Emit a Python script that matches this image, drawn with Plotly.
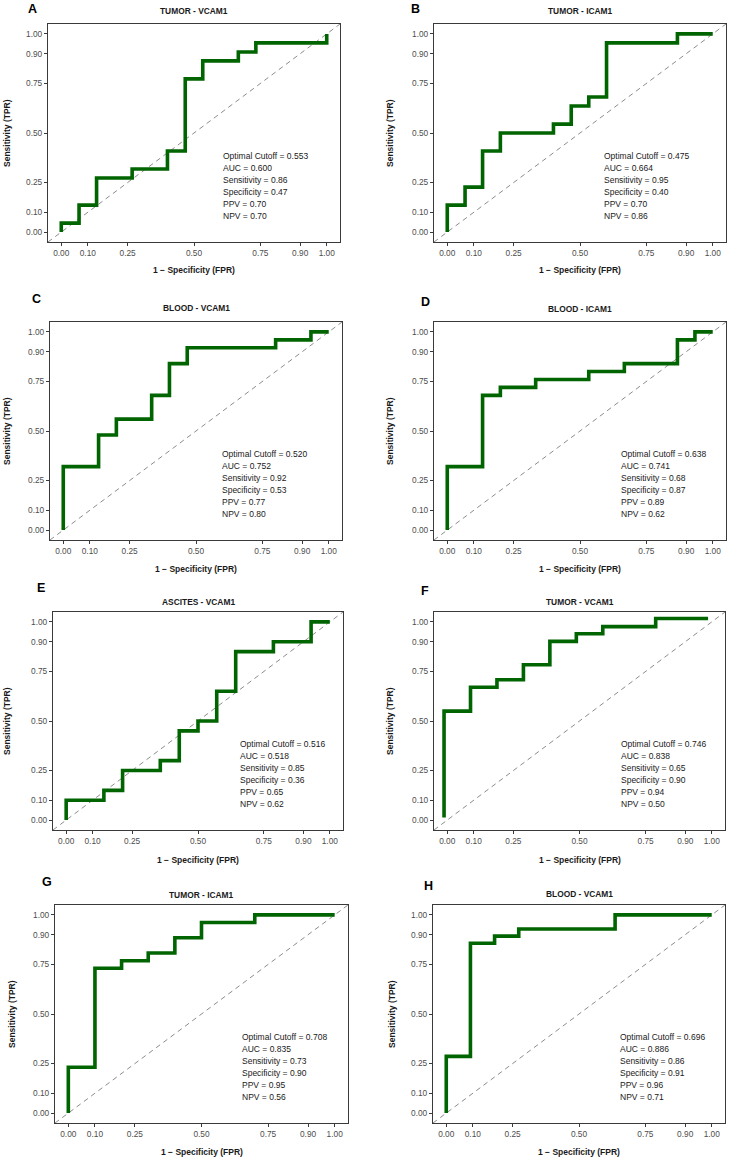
import plotly.graph_objects as go

W, H = 730, 1159

# ---------------- data ----------------
panel_letters = ["A", "B", "C", "D", "E", "F", "G", "H"]
panel_titles = ["TUMOR - VCAM1", "TUMOR - ICAM1", "BLOOD - VCAM1", "BLOOD - ICAM1",
                "ASCITES - VCAM1", "TUMOR - VCAM1", "TUMOR - ICAM1", "BLOOD - VCAM1"]

fpr_A = [0, 0, 0.067, 0.133, 0.267, 0.400, 0.467, 0.533, 0.667, 0.733, 1.0]
tpr_A = [0, 0.045, 0.136, 0.273, 0.318, 0.409, 0.773, 0.864, 0.909, 0.955, 1.0]

fpr_B = [0, 0, 0.067, 0.133, 0.200, 0.400, 0.467, 0.533, 0.600, 0.867, 1.0]
tpr_B = [0, 0.136, 0.227, 0.409, 0.500, 0.545, 0.636, 0.682, 0.955, 1.0, 1.0]

fpr_C = [0, 0, 0.133, 0.200, 0.333, 0.400, 0.467, 0.800, 0.933, 1.0]
tpr_C = [0, 0.32, 0.48, 0.56, 0.68, 0.84, 0.92, 0.96, 1.0, 1.0]

fpr_D = [0, 0, 0.133, 0.200, 0.333, 0.533, 0.667, 0.867, 0.933, 1.0]
tpr_D = [0, 0.32, 0.68, 0.72, 0.76, 0.80, 0.84, 0.96, 1.0, 1.0]

fpr_E = [0, 0, 0.143, 0.214, 0.357, 0.429, 0.500, 0.571, 0.643, 0.786, 0.929, 1.0]
tpr_E = [0, 0.10, 0.15, 0.25, 0.30, 0.45, 0.50, 0.65, 0.85, 0.90, 1.0, 1.0]

fpr_F = [-0.012, -0.012, 0.088, 0.188, 0.288, 0.388, 0.488, 0.588, 0.788, 0.986]
tpr_F = [0.013, 0.550, 0.670, 0.708, 0.784, 0.902, 0.940, 0.976, 1.017, 1.017]

fpr_G = [0, 0, 0.1, 0.2, 0.3, 0.4, 0.5, 0.7, 1.0]
tpr_G = [0, 0.231, 0.731, 0.769, 0.808, 0.885, 0.962, 1.0, 1.0]

fpr_H = [0, 0, 0.091, 0.182, 0.273, 0.636, 1.0]
tpr_H = [0, 0.286, 0.857, 0.893, 0.929, 1.0, 1.0]

curves_fpr = [fpr_A, fpr_B, fpr_C, fpr_D, fpr_E, fpr_F, fpr_G, fpr_H]
curves_tpr = [tpr_A, tpr_B, tpr_C, tpr_D, tpr_E, tpr_F, tpr_G, tpr_H]

cutoff = ["0.553", "0.475", "0.520", "0.638", "0.516", "0.746", "0.708", "0.696"]
auc = ["0.600", "0.664", "0.752", "0.741", "0.518", "0.838", "0.835", "0.886"]
sens = ["0.86", "0.95", "0.92", "0.68", "0.85", "0.65", "0.73", "0.86"]
spec = ["0.47", "0.40", "0.53", "0.87", "0.36", "0.90", "0.90", "0.91"]
ppv = ["0.70", "0.70", "0.77", "0.89", "0.65", "0.94", "0.95", "0.96"]
npv = ["0.70", "0.86", "0.80", "0.62", "0.62", "0.50", "0.56", "0.71"]

tick_vals = [0, 0.10, 0.25, 0.50, 0.75, 0.90, 1.00]
tick_text = ["0.00", "0.10", "0.25", "0.50", "0.75", "0.90", "1.00"]

x_title = "1 \u2212 Specificity (FPR)"
y_title = "Sensitivity (TPR)"

# ---------------- layout config (pixels) ----------------
AX_RANGE = [-0.05, 1.05]
boxes = [(48, 340, 24, 242), (434, 726, 24, 242),
         (50, 342, 322, 540), (434, 726, 322, 540),
         (53, 343, 612, 830), (434, 725, 612, 830),
         (55, 348, 905, 1123), (433, 725, 905, 1123)]
title_y = [11, 11, 308, 309, 602, 602, 895, 894]
xtitle_y = [270, 270, 569, 569, 860, 860, 1152, 1152]
letter_pos = [(32, 9), (415, 9), (36, 299), (425, 302), (41, 588), (425, 591), (47, 882), (428, 886)]
ytitle_x = [7, 390, 7, 390, 7, 390, 12, 392]
stats_x = [0.604, 0.588, 0.595, 0.650, 0.655, 0.652, 0.648, 0.652]
stats_y0 = 0.382
stats_dy = 12 / 198.0

FONT = "Liberation Sans, Arial, Helvetica, sans-serif"
GREEN = "#006400"


def px(x):
    return x / W


def py(y):
    return 1 - y / H


fig = go.Figure()
annotations = []
layout_axes = {}

for i in range(8):
    l, r, t, b = boxes[i]
    n = i + 1
    xa = "xaxis" if n == 1 else f"xaxis{n}"
    ya = "yaxis" if n == 1 else f"yaxis{n}"
    xr = "x" if n == 1 else f"x{n}"
    yr = "y" if n == 1 else f"y{n}"

    axis_common = dict(
        range=AX_RANGE, tickmode="array", tickvals=tick_vals, ticktext=tick_text,
        showgrid=False, zeroline=False, showline=True, mirror=True,
        linecolor="#3a3a3a", linewidth=1.3, ticks="outside", ticklen=3,
        tickcolor="#3a3a3a", tickwidth=1,
        tickfont=dict(family=FONT, size=8.3, color="#4d4d4d"),
        fixedrange=True,
    )
    layout_axes[xa] = dict(axis_common, domain=[px(l), px(r)], anchor=yr)
    layout_axes[ya] = dict(axis_common, domain=[py(b), py(t)], anchor=xr)

    # diagonal reference line across the axis range
    fig.add_trace(go.Scatter(x=AX_RANGE, y=AX_RANGE, mode="lines", xaxis=xr, yaxis=yr,
                             line=dict(color="#8c8c8c", width=1, dash="5px,4px"),
                             hoverinfo="skip", showlegend=False))
    # ROC curve
    fig.add_trace(go.Scatter(x=curves_fpr[i], y=curves_tpr[i], mode="lines",
                             xaxis=xr, yaxis=yr, line=dict(color=GREEN, width=3.6, shape="hv"),
                             showlegend=False))

    # stats text
    lines = [f"Optimal Cutoff = {cutoff[i]}", f"AUC = {auc[i]}",
             f"Sensitivity = {sens[i]}", f"Specificity = {spec[i]}",
             f"PPV = {ppv[i]}", f"NPV = {npv[i]}"]
    for k, s in enumerate(lines):
        annotations.append(dict(x=stats_x[i], y=stats_y0 - k * stats_dy, xref=xr, yref=yr,
                                text=s, showarrow=False, xanchor="left", yanchor="middle",
                                borderpad=0,
                                font=dict(family=FONT, size=8.5, color="#1a1a1a")))

    cx = (l + r) / 2
    # panel title
    annotations.append(dict(x=px(cx), y=py(title_y[i]), xref="paper", yref="paper",
                            text=f"<b>{panel_titles[i]}</b>", showarrow=False,
                            xanchor="center", yanchor="middle", borderpad=0,
                            font=dict(family=FONT, size=8.4, color="#1a1a1a")))
    # panel letter
    lx, ly = letter_pos[i]
    annotations.append(dict(x=px(lx), y=py(ly), xref="paper", yref="paper",
                            text=f"<b>{panel_letters[i]}</b>", showarrow=False,
                            xanchor="center", yanchor="middle", borderpad=0,
                            font=dict(family=FONT, size=12.5, color="#000000")))
    # x axis title
    annotations.append(dict(x=px(cx), y=py(xtitle_y[i]), xref="paper", yref="paper",
                            text=f"<b>{x_title}</b>", showarrow=False,
                            xanchor="center", yanchor="middle", borderpad=0,
                            font=dict(family=FONT, size=8.5, color="#1a1a1a")))
    # y axis title
    annotations.append(dict(x=px(ytitle_x[i]), y=py((t + b) / 2), xref="paper", yref="paper",
                            text=f"<b>{y_title}</b>", showarrow=False, textangle=-90,
                            xanchor="center", yanchor="middle", borderpad=0,
                            font=dict(family=FONT, size=8.5, color="#1a1a1a")))

fig.update_layout(
    width=W, height=H,
    margin=dict(l=0, r=0, t=0, b=0),
    paper_bgcolor="white", plot_bgcolor="white",
    showlegend=False,
    annotations=annotations,
    **layout_axes,
)

fig.write_html("out.html", config={"displayModeBar": False},
               post_script="document.body.style.margin='0px';document.body.style.overflow='hidden';")
